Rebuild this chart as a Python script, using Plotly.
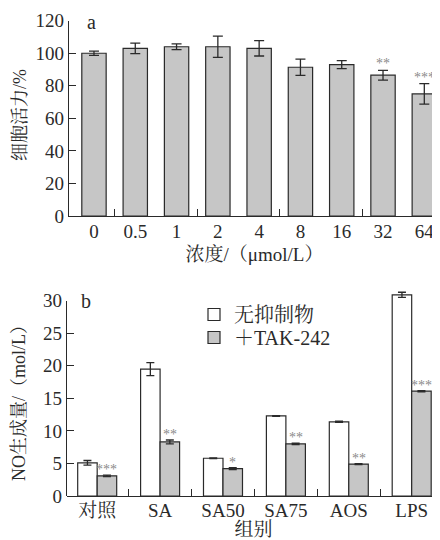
import plotly.graph_objects as go

# Panel a data
conc_labels = ["0", "0.5", "1", "2", "4", "8", "16", "32", "64"]
viability = [100, 103, 104, 104, 103, 91.4, 93, 86.5, 75]
viability_err = [1.3, 3.2, 1.8, 6.5, 4.7, 5.0, 2.5, 3.0, 6.3]
viability_sig = ["", "", "", "", "", "", "", "**", "***"]

# Panel b data
groups = ["对照", "SA", "SA50", "SA75", "AOS", "LPS"]
no_plain = [5.1, 19.5, 5.8, 12.3, 11.4, 30.9]
no_plain_err = [0.35, 1.0, 0.06, 0.06, 0.1, 0.4]
no_tak = [3.1, 8.3, 4.2, 8.0, 4.9, 16.1]
no_tak_err = [0.12, 0.3, 0.15, 0.1, 0.06, 0.1]
no_tak_sig = ["***", "**", "*", "**", "**", "***"]
no_ticks = [0, 5, 10, 15, 20, 25, 30]

FONT = "Liberation Serif, Noto Serif CJK SC, Noto Sans CJK SC, serif"
INK = "#2a2a2a"
GRAY = "#c6c6c6"
STAR = "#8a8a8a"

W, H = 432, 532  # page body adds an 8px margin

fig = go.Figure()

xa = list(range(len(conc_labels)))
fig.add_trace(go.Bar(
    x=xa, y=viability, width=0.59,
    marker=dict(color=GRAY, line=dict(color=INK, width=1.2)),
    error_y=dict(type="data", array=viability_err, color=INK, thickness=1.3, width=5),
    showlegend=False, xaxis="x", yaxis="y"))

xb = list(range(len(groups)))
fig.add_trace(go.Bar(
    x=xb, y=no_plain, name="无抑制物",
    marker=dict(color="white", line=dict(color=INK, width=1.2)),
    error_y=dict(type="data", array=no_plain_err, color=INK, thickness=1.3, width=4),
    xaxis="x2", yaxis="y2", legend="legend"))
fig.add_trace(go.Bar(
    x=xb, y=no_tak, name="＋TAK-242",
    marker=dict(color=GRAY, line=dict(color=INK, width=1.2)),
    error_y=dict(type="data", array=no_tak_err, color=INK, thickness=1.3, width=4),
    xaxis="x2", yaxis="y2", legend="legend2"))
# empty trace so the visible 0-30 axis of panel b is drawn
fig.add_trace(go.Scatter(x=[None], y=[None], xaxis="x2", yaxis="y3", mode="markers",
                         showlegend=False, hoverinfo="skip"))

annotations = []
for i, s in enumerate(viability_sig):
    if s:
        annotations.append(dict(x=i, y=viability[i] + viability_err[i], xref="x", yref="y",
                                text=s, showarrow=False, yanchor="bottom", yshift=-3,
                                font=dict(family=FONT, size=14, color=STAR)))
for i, s in enumerate(no_tak_sig):
    annotations.append(dict(x=i + 0.155, y=no_tak[i] + no_tak_err[i], xref="x2", yref="y2",
                            text=s, showarrow=False, yanchor="bottom", yshift=-4,
                            font=dict(family=FONT, size=14, color=STAR)))

annotations.append(dict(x=-0.22, y=120, xref="x", yref="y", text="a", showarrow=False,
                        xanchor="left", yanchor="middle", yshift=-1,
                        font=dict(family=FONT, size=20, color=INK)))
annotations.append(dict(x=-0.29, y=30, xref="x2", yref="y2", text="b", showarrow=False,
                        xanchor="left", yanchor="middle",
                        font=dict(family=FONT, size=20, color=INK)))

title_font = dict(family=FONT, size=19, color=INK)
ytitle_font = dict(family=FONT, size=18, color=INK)
annotations.append(dict(x=12 / W, y=1 - 107 / H, xref="paper", yref="paper", text="细胞活力/%",
                        textangle=-90, showarrow=False, xanchor="center", yanchor="middle",
                        font=ytitle_font))
annotations.append(dict(x=11 / W, y=1 - 391 / H, xref="paper", yref="paper", text="NO生成量/（mol/L）",
                        textangle=-90, showarrow=False, xanchor="center", yanchor="middle",
                        font=ytitle_font))

axis_common = dict(showline=True, linecolor=INK, linewidth=1.3, showgrid=False, zeroline=False,
                   automargin=False, tickfont=dict(family=FONT, size=19, color=INK))
legend_common = dict(xanchor="left", yanchor="top", bgcolor="rgba(0,0,0,0)",
                     font=dict(family=FONT, size=20, color=INK), itemwidth=30)

b_bottom, b_top30 = 488, 292.7
px_per_unit = (b_bottom - b_top30) / 30
b_data_max = 32
b_top_data = b_bottom - b_data_max * px_per_unit

fig.update_layout(
    width=W, height=H,
    margin=dict(l=0, r=0, t=0, b=0, pad=0),
    paper_bgcolor="white", plot_bgcolor="rgba(0,0,0,0)",
    barmode="group", bargap=0.38, bargroupgap=0,
    font=dict(family=FONT, color=INK),
    xaxis=dict(**axis_common, domain=[61 / W, 1.0], range=[-0.605, 8.38],
               tickmode="array", tickvals=xa, ticktext=conc_labels, ticks="",
               ticklabelstandoff=-2,
               minor=dict(tickmode="array", tickvals=[0.5, 2.5, 4.5, 6.5], ticks="inside",
                          ticklen=7, tickcolor=INK, tickwidth=1.3),
               title=dict(text="浓度/（μmol/L）", font=title_font, standoff=6),
               anchor="y"),
    yaxis=dict(**axis_common, domain=[1 - 208 / H, 1 - 12.7 / H], range=[0, 120],
               tickvals=[0, 20, 40, 60, 80, 100, 120],
               ticks="inside", ticklen=7, tickcolor=INK, tickwidth=1.3,
               anchor="x"),
    xaxis2=dict(**axis_common, domain=[59 / W, 1.0], range=[-0.48, 5.45],
                tickmode="array", tickvals=xb, ticktext=groups, ticks="",
                ticklabelstandoff=-3,
                minor=dict(tickmode="array", tickvals=[0.5, 1.5, 2.5, 3.5, 4.5], ticks="inside",
                           ticklen=7, tickcolor=INK, tickwidth=1.3),
                title=dict(text="组别", font=title_font, standoff=12),
                anchor="y2"),
    yaxis2=dict(showline=False, showgrid=False, zeroline=False, automargin=False,
                showticklabels=False, ticks="",
                domain=[1 - b_bottom / H, 1 - b_top_data / H], range=[0, b_data_max],
                anchor="x2"),
    yaxis3=dict(**axis_common, domain=[1 - b_bottom / H, 1 - b_top30 / H], range=[0, 30],
                tickvals=no_ticks,
                ticks="inside", ticklen=7, tickcolor=INK, tickwidth=1.3,
                anchor="x2"),
    legend=dict(**legend_common, x=186 / W, y=1 - 287 / H),
    legend2=dict(**legend_common, x=186 / W, y=1 - 310 / H),
    annotations=annotations,
)

fig.write_html("out.html")
